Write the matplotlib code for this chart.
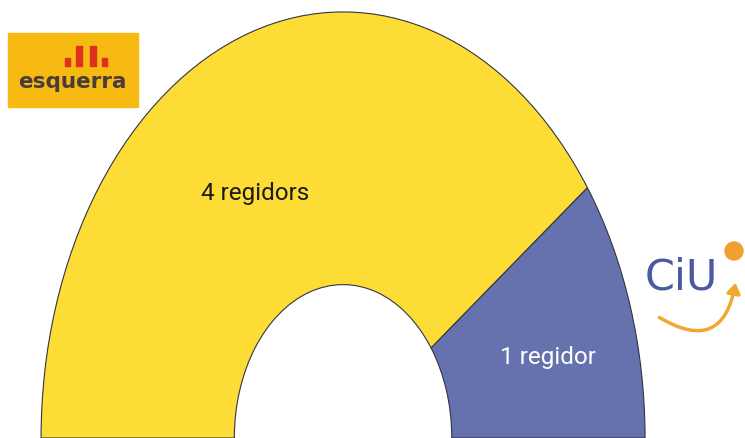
import matplotlib
matplotlib.use("Agg")
import matplotlib.pyplot as plt
from matplotlib.patches import Rectangle, Circle, FancyArrowPatch
import numpy as np

# Data
parties = ["CiU", "Esquerra"]
seats = [1, 4]
labels = ["1 regidor", "4 regidors"]
colors = ["#6672AE", "#FDDD35"]
total = sum(seats)

fig = plt.figure(figsize=(7.45, 4.38), dpi=100)
ax = fig.add_axes([0, 0, 1, 1])

vals = seats + [total]  # hidden lower half
wedges, _ = ax.pie(vals, startangle=0, counterclock=True,
                   colors=colors + ["none"],
                   wedgeprops=dict(width=0.64, edgecolor="#333344", linewidth=0.8),
                   radius=1.0, center=(0, 0), frame=False)
wedges[-1].set_edgecolor("none")
ax.set_aspect("auto")
ax.set_xlim(-1.136, 1.331)
ax.set_ylim(0, 1.028)
ax.axis("off")

font = ["Liberation Sans Narrow", "Roboto", "DejaVu Sans"]
ax.text(-0.291, 0.575, labels[1], ha="center", va="center", fontsize=17.5,
        color="#1a1a1a", family=font)
ax.text(0.679, 0.190, labels[0], ha="center", va="center", fontsize=17.5,
        color="white", family=font)

# Logo overlay in pixel coordinates
lx = fig.add_axes([0, 0, 1, 1], facecolor="none")
lx.set_xlim(0, 745)
lx.set_ylim(438, 0)
lx.axis("off")

# Esquerra logo
lx.add_patch(Rectangle((8, 33), 130, 74, color="#F7BA12", zorder=1))
for (x0, y0, w, h) in [(65, 58, 5, 8), (76, 46, 6, 20), (90, 46, 6, 20), (102, 58, 5, 8)]:
    lx.add_patch(Rectangle((x0, y0), w, h, color="#E0301E", zorder=2))
lx.text(72, 82, "esquerra", ha="center", va="center", fontsize=15.5,
        fontweight="bold", color="#4a3c3c", family=["DejaVu Sans"], zorder=3)

# CiU logo
lx.text(681, 278, "CiU", ha="center", va="center", fontsize=31,
        color="#4A5A9E", family=["DejaVu Sans"], zorder=3)
lx.add_patch(Circle((734, 251), 9, color="#F0A030", zorder=3))
arrow = FancyArrowPatch((657, 316), (736, 280), connectionstyle="arc3,rad=0.75",
                        arrowstyle="-|>,head_length=6,head_width=4", color="#F0A830",
                        linewidth=2.5, zorder=3)
lx.add_patch(arrow)

fig.savefig("out.png", dpi=100)
